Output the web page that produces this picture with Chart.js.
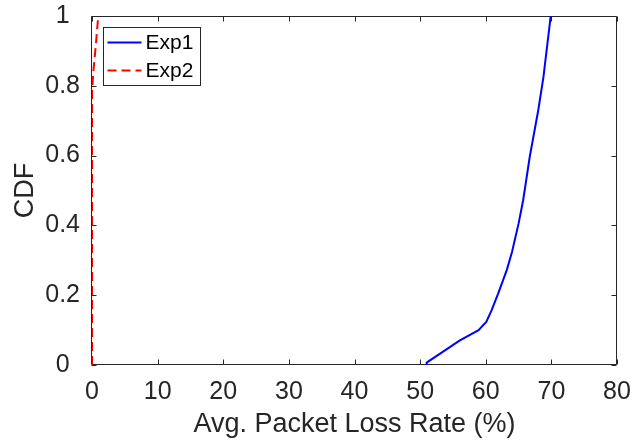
<!DOCTYPE html>
<html>
<head>
<meta charset="utf-8">
<script src="https://cdn.jsdelivr.net/npm/chart.js@4.4.0/dist/chart.umd.min.js"></script>
<style>
  html, body { margin: 0; padding: 0; background: #fff; }
  #wrap { width: 634px; height: 444px; }
</style>
</head>
<body>
<div id="wrap"><canvas id="cdfChart" width="634" height="444"></canvas></div>
<script>
// valori
const exp1Loss = [51, 51, 56, 58.9, 60.1, 60.9, 61.9, 63.2, 64, 65, 65.7, 66.7, 68.0, 68.8, 69.9];
const exp1Cdf = [0, 0.007, 0.07, 0.10, 0.124, 0.157, 0.205, 0.272, 0.324, 0.405, 0.472, 0.596, 0.73, 0.826, 1.0];
const exp2Loss = [0, 0, 0.2, 0.6, 0.95];
const exp2Cdf = [0, 0.78, 0.84, 0.92, 1.0];
const xTicks = [0, 10, 20, 30, 40, 50, 60, 70, 80];
const yTicks = [0, 0.2, 0.4, 0.6, 0.8, 1];

const FONT = "'Liberation Sans', Arial, Helvetica, sans-serif";
const TEXT_COLOR = "#262626";
const AXIS_COLOR = "#262626";

function toPoints(xs, ys) {
  return xs.map((v, i) => ({ x: v, y: ys[i] }));
}

// box e tick interni stile MATLAB
const boxPlugin = {
  id: "matlabBox",
  beforeDatasetsDraw(chart) {
    const { ctx, chartArea: a, scales } = chart;
    const L = Math.round(a.left) - 0.5;
    const R = Math.round(a.right) - 0.5;
    const T = Math.round(a.top) + 0.5;
    const B = Math.round(a.bottom) - 0.5;
    ctx.save();
    ctx.strokeStyle = AXIS_COLOR;
    ctx.lineWidth = 1;
    ctx.beginPath();
    ctx.rect(L, T, R - L, B - T);
    xTicks.forEach(v => {
      const px = Math.round(scales.x.getPixelForValue(v)) + 0.5;
      ctx.moveTo(px, B); ctx.lineTo(px, B - 5);
      ctx.moveTo(px, T); ctx.lineTo(px, T + 5);
    });
    yTicks.forEach(v => {
      const py = Math.round(scales.y.getPixelForValue(v)) + 0.5;
      ctx.moveTo(L, py); ctx.lineTo(L + 5, py);
      ctx.moveTo(R, py); ctx.lineTo(R - 5, py);
    });
    ctx.stroke();
    ctx.restore();
  }
};

// legenda con bordo, in alto a sinistra dentro gli assi
const legendPlugin = {
  id: "boxLegend",
  afterDatasetsDraw(chart) {
    const { ctx, chartArea: a } = chart;
    const x0 = Math.round(a.left) + 11.5;
    const y0 = Math.round(a.top) + 11.5;
    const w = 97;
    const h = 58;
    ctx.save();
    ctx.fillStyle = "#fff";
    ctx.fillRect(x0, y0, w, h);
    ctx.strokeStyle = AXIS_COLOR;
    ctx.lineWidth = 1;
    ctx.strokeRect(x0, y0, w, h);
    ctx.font = "21px " + FONT;
    ctx.textBaseline = "middle";
    ctx.textAlign = "left";
    chart.data.datasets.forEach((ds, i) => {
      const ly = y0 + 15 + i * 28;
      ctx.strokeStyle = ds.borderColor;
      ctx.lineWidth = ds.borderWidth;
      ctx.setLineDash(ds.borderDash || []);
      ctx.beginPath();
      ctx.moveTo(x0 + 4, ly);
      ctx.lineTo(x0 + 38, ly);
      ctx.stroke();
      ctx.setLineDash([]);
      ctx.fillStyle = "#000";
      ctx.fillText(ds.label, x0 + 42, ly + 1);
    });
    ctx.restore();
  }
};

const ctx = document.getElementById("cdfChart").getContext("2d");

const cdfChart = new Chart(ctx, {
  type: "line",
  data: {
    datasets: [
      {
        label: "Exp1",
        data: toPoints(exp1Loss, exp1Cdf),
        borderColor: "#0000ff",
        borderWidth: 2,
        pointRadius: 0,
        fill: false,
        tension: 0
      },
      {
        label: "Exp2",
        data: toPoints(exp2Loss, exp2Cdf),
        borderColor: "#ff0000",
        borderWidth: 2,
        borderDash: [9, 5],
        pointRadius: 0,
        fill: false,
        tension: 0
      }
    ]
  },
  options: {
    responsive: false,
    animation: false,
    devicePixelRatio: 1,
    layout: {
      padding: { left: 0, right: 17, top: 16, bottom: 0 }
    },
    plugins: {
      legend: { display: false },
      tooltip: { enabled: false }
    },
    scales: {
      x: {
        type: "linear",
        min: 0,
        max: 80,
        afterBuildTicks: s => { s.ticks = xTicks.map(v => ({ value: v })); },
        afterFit: s => {
          s.height = 79;
          s.paddingLeft = 0;
          s.paddingRight = 0;
        },
        grid: { display: false, drawTicks: false },
        border: { display: false },
        ticks: {
          font: { family: FONT, size: 25 },
          color: TEXT_COLOR,
          padding: 12,
          maxRotation: 0
        },
        title: {
          display: true,
          text: "Avg. Packet Loss Rate (%)",
          font: { family: FONT, size: 27 },
          color: TEXT_COLOR,
          padding: { top: 0, bottom: 3 }
        }
      },
      y: {
        type: "linear",
        min: 0,
        max: 1,
        afterBuildTicks: s => { s.ticks = yTicks.map(v => ({ value: v })); },
        afterFit: s => {
          s.width = 92;
          s.paddingTop = 0;
          s.paddingBottom = 0;
        },
        grid: { display: false, drawTicks: false },
        border: { display: false },
        ticks: {
          font: { family: FONT, size: 25 },
          color: TEXT_COLOR,
          padding: 12,
          crossAlign: "center",
          callback: v => String(v)
        },
        title: {
          display: true,
          text: "CDF",
          font: { family: FONT, size: 27 },
          color: TEXT_COLOR,
          padding: { top: 9, bottom: 0 }
        }
      }
    }
  },
  plugins: [boxPlugin, legendPlugin]
});
</script>
</body>
</html>
